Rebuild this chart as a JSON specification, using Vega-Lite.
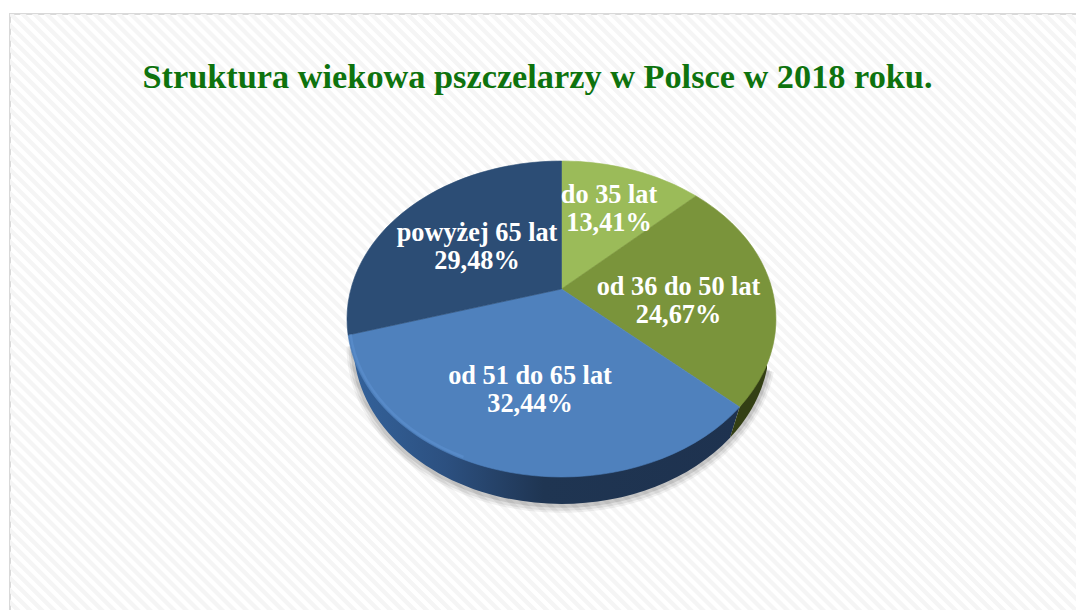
{"$schema":"https://vega.github.io/schema/vega-lite/v6.json","width":1067,"height":597,"autosize":{"type":"none"},"padding":{"left":10,"top":14,"right":0,"bottom":0},"background":"#ffffff","view":{"stroke":"#d9d9d9","strokeWidth":2,"fill":"#ffffff"},"title":{"text":"Struktura wiekowa pszczelarzy w Polsce w 2018 roku.","anchor":"middle","offset":-108,"dx":-6,"baseline":"alphabetic","font":"Liberation Serif","fontWeight":"bold","fontSize":34.3,"color":"#0e730e"},"datasets":{"wiek":[{"wiek":"do 35 lat","udzial":13.41,"etykieta":"do 35 lat\n13,41%"},{"wiek":"od 36 do 50 lat","udzial":24.67,"etykieta":"od 36 do 50 lat\n24,67%"},{"wiek":"od 51 do 65 lat","udzial":32.44,"etykieta":"od 51 do 65 lat\n32,44%"},{"wiek":"powyżej 65 lat","udzial":29.48,"etykieta":"powyżej 65 lat\n29,48%"}]},"layer":[{"data":{"values":[{"element":"tlo"}]},"mark":{"type":"point","clip":true,"filled":false,"size":4,"opacity":1,"shape":"M-900 900L900 -900","stroke":"#f5f5f5","strokeWidth":2000,"strokeDash":[4.25,4.25]},"encoding":{}},{"data":{"values":[{"element":"cien"}]},"mark":{"type":"point","filled":false,"size":4,"opacity":0.05,"shape":"M-190 34A208 160 0 0 0 223.5 58","stroke":"#000000","strokeWidth":14},"encoding":{}},{"data":{"values":[{"element":"cien"}]},"mark":{"type":"point","filled":false,"size":4,"opacity":0.07,"shape":"M-190 34A208 160 0 0 0 223.5 58","stroke":"#000000","strokeWidth":10},"encoding":{}},{"data":{"values":[{"element":"cien"}]},"mark":{"type":"point","filled":false,"size":4,"opacity":0.1,"shape":"M-190 33A208 160 0 0 0 223.5 57","stroke":"#000000","strokeWidth":6},"encoding":{}},{"data":{"values":[{"element":"bok niebieski"}]},"mark":{"type":"point","filled":true,"size":4,"opacity":1,"shape":"M-195.4 22.5L-190 31.5A208 160 0 0 0 186.5 125.3L196.1 94.5Z","fill":{"gradient":"linear","x1":0,"y1":0,"x2":1,"y2":0,"stops":[{"offset":0,"color":"#34639c"},{"offset":0.25,"color":"#2c5080"},{"offset":0.5,"color":"#1f3552"},{"offset":1,"color":"#1e324f"}]}},"encoding":{}},{"data":{"values":[{"element":"bok oliwkowy"}]},"mark":{"type":"point","filled":true,"size":4,"opacity":1,"shape":"M196.1 94.5L186.5 125.3A208 160 0 0 0 223.5 56.2L223.5 52Z","fill":"#333f14"},"encoding":{}},{"data":{"name":"wiek"},"mark":{"type":"point","filled":true,"size":4,"opacity":1,"strokeWidth":0.6},"encoding":{"shape":{"field":"wiek","type":"nominal","legend":null,"scale":{"domain":["do 35 lat","od 36 do 50 lat","od 51 do 65 lat","powyżej 65 lat"],"range":["M18 -23.5L18 -151.5A214.5 158 0 0 1 152.5 -116.5Z","M18 -23.5L152.5 -116.5A214.5 158 0 0 1 196.1 94.5Z","M18 -23.5L196.1 94.5A214.5 158 0 0 1 -195.4 22.5Z","M18 -23.5L-195.4 22.5A214.5 158 0 0 1 18 -151.5Z"]}},"color":{"field":"wiek","type":"nominal","legend":null,"scale":{"domain":["do 35 lat","od 36 do 50 lat","od 51 do 65 lat","powyżej 65 lat"],"range":["#9bbb59","#7a943b","#4f81bd","#2c4d75"]}},"stroke":{"field":"wiek","type":"nominal","legend":null,"scale":{"domain":["do 35 lat","od 36 do 50 lat","od 51 do 65 lat","powyżej 65 lat"],"range":["#9bbb59","#7a943b","#4f81bd","#2c4d75"]}}}},{"data":{"values":[{"element":"krawedz"}]},"mark":{"type":"point","filled":false,"size":4,"opacity":0.5,"shape":"M-193 21.6A212 156 0 0 0 -80 144.5","stroke":"#5f93d3","strokeWidth":2.5},"encoding":{}},{"data":{"name":"wiek"},"mark":{"type":"text","font":"Liberation Serif","fontWeight":"bold","fontSize":26.3,"lineHeight":28,"lineBreak":"\n","align":"center","baseline":"middle","color":"#ffffff"},"encoding":{"text":{"field":"etykieta","type":"nominal"},"x":{"field":"udzial","type":"quantitative","axis":null,"scale":{"domain":[13.41,24.67,29.48,32.44],"range":[599,668.5,467,520],"zero":false,"nice":false}},"y":{"field":"udzial","type":"quantitative","axis":null,"scale":{"domain":[13.41,24.67,29.48,32.44],"range":[181,273,219,362],"zero":false,"nice":false}}}}]}
